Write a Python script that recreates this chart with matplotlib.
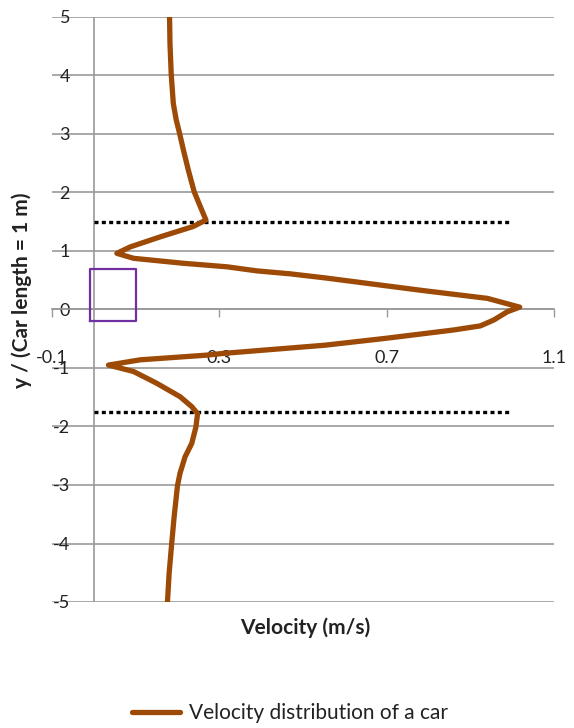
import matplotlib
matplotlib.use("Agg")
import matplotlib.pyplot as plt

# Velocity profile across the wake of a car (y measured in car lengths)
velocity = [0.181, 0.182, 0.185, 0.190, 0.197, 0.205, 0.214, 0.226, 0.240,
            0.258, 0.268, 0.238, 0.158, 0.087, 0.055, 0.095, 0.214, 0.318,
            0.390, 0.469, 0.553, 0.780, 0.941, 1.018, 0.988, 0.956, 0.924,
            0.860, 0.701, 0.553, 0.310, 0.270, 0.111, 0.035, 0.095, 0.150,
            0.206, 0.234, 0.248, 0.244, 0.234, 0.218, 0.206, 0.200, 0.192,
            0.186, 0.180, 0.176]
position = [5.00, 4.55, 4.02, 3.52, 3.24, 3.01, 2.73, 2.38, 2.01,
            1.70, 1.53, 1.42, 1.24, 1.07, 0.96, 0.875, 0.79, 0.73,
            0.66, 0.61, 0.54, 0.33, 0.19, 0.04, -0.04, -0.18, -0.28,
            -0.35, -0.49, -0.61, -0.75, -0.78, -0.86, -0.95, -1.06, -1.26,
            -1.49, -1.66, -1.78, -2.01, -2.29, -2.52, -2.80, -3.01, -3.54,
            -4.01, -4.51, -5.00]

x_ticks = [-0.1, 0.3, 0.7, 1.1]
x_tick_labels = ["-0.1", "0.3", "0.7", "1.1"]
y_ticks = [-5, -4, -3, -2, -1, 0, 1, 2, 3, 4, 5]

# Wake boundaries and the car outline
wake_top = 1.5
wake_bottom = -1.75
wake_x = [0.0, 1.0]
car_x = [-0.01, 0.10]
car_y = [-0.20, 0.70]

plt.rcParams["font.family"] = ["Lato", "DejaVu Sans"]

fig = plt.figure(figsize=(5.74, 7.28), dpi=100)
ax = fig.add_axes([52 / 574, 1 - 602 / 728, (554 - 52) / 574, (602 - 17) / 728])
ax.set_xlim(-0.1, 1.1)
ax.set_ylim(-5, 5)

grid_color = "#9a9a9a"
for yv in y_ticks:
    ax.axhline(yv, color=grid_color, lw=1.2, zorder=1)
ax.axvline(0, color=grid_color, lw=1.2, zorder=1)

for s in ["top", "right", "left"]:
    ax.spines[s].set_visible(False)
ax.spines["bottom"].set_position(("data", 0))
ax.spines["bottom"].set_color(grid_color)
ax.spines["bottom"].set_linewidth(1.2)

ax.set_xticks(x_ticks)
ax.set_xticklabels(x_tick_labels)
ax.tick_params(axis="x", direction="out", length=5.5, width=1.0, color=grid_color,
               pad=24, labelsize=13, labelcolor="#222222")

ax.set_yticks(y_ticks)
ax.set_yticklabels([str(v) for v in y_ticks])
ax.tick_params(axis="y", length=0, pad=-13, labelsize=13, labelcolor="#222222")
for lab in ax.get_yticklabels():
    lab.set_horizontalalignment("right")

ax.plot(wake_x, [wake_top, wake_top], color="black", lw=2.4,
        linestyle=(0, (1.2, 1.0)), zorder=2)
ax.plot(wake_x, [wake_bottom, wake_bottom], color="black", lw=2.4,
        linestyle=(0, (1.2, 1.0)), zorder=2)

ax.plot([car_x[0], car_x[1], car_x[1], car_x[0], car_x[0]],
        [car_y[0], car_y[0], car_y[1], car_y[1], car_y[0]],
        color="#7030A0", lw=1.6, zorder=3)

line, = ax.plot(velocity, position, color="#9C4A06", lw=3.8,
                solid_joinstyle="round", solid_capstyle="round", zorder=4,
                label="Velocity distribution of a car")

fig.text(22 / 574, 1 - 290 / 728, "y / (Car length = 1 m)", rotation=90,
         ha="center", va="center", fontsize=15, fontweight="bold", color="#222222")
fig.text(305 / 574, 1 - 628 / 728, "Velocity (m/s)", ha="center", va="center",
         fontsize=15, fontweight="bold", color="#222222")

fig.legend(handles=[line], loc="center", bbox_to_anchor=(290 / 574, 1 - 713 / 728),
           frameon=False, fontsize=15, handlelength=2.3, handletextpad=0.4,
           labelcolor="#222222")

fig.savefig("out.png", dpi=100)
